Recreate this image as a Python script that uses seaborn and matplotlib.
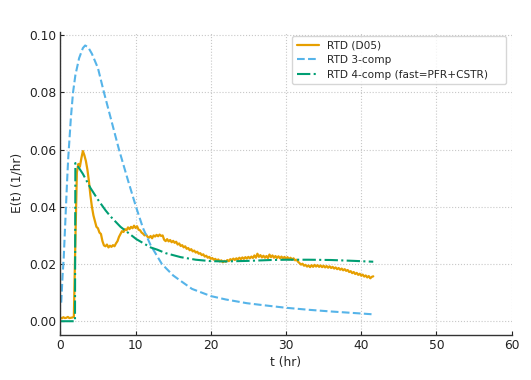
import numpy as np
import pandas as pd
import matplotlib
matplotlib.use('Agg')
import matplotlib.pyplot as plt
import seaborn as sns

# measured RTD (D05), sampled every 0.2 hr from t = 0
rtd_step = 0.2
rtd_vals = [
    0.0013, 0.0010, 0.0014, 0.0011, 0.0012, 0.0015, 0.0011, 0.0012, 0.0013, 0.0015,
    0.0280, 0.0520, 0.0550, 0.0540, 0.0570, 0.0595, 0.0580, 0.0560, 0.0530, 0.0490,
    0.0440, 0.0400, 0.0370, 0.0350, 0.0330, 0.0325, 0.0310, 0.0305, 0.0280, 0.0265,
    0.0262, 0.0268, 0.0258, 0.0264, 0.0260, 0.0266, 0.0262, 0.0272, 0.0280, 0.0295,
    0.0305, 0.0315, 0.0312, 0.0322, 0.0318, 0.0328, 0.0322, 0.0330, 0.0325, 0.0334,
    0.0326, 0.0332, 0.0320, 0.0318, 0.0310, 0.0306, 0.0300, 0.0303, 0.0295, 0.0292,
    0.0298, 0.0290, 0.0300, 0.0296, 0.0302, 0.0297, 0.0303, 0.0298, 0.0300, 0.0285,
    0.0280, 0.0287, 0.0279, 0.0284, 0.0276, 0.0281, 0.0274, 0.0278, 0.0268, 0.0272,
    0.0263, 0.0266, 0.0258, 0.0262, 0.0253, 0.0256, 0.0248, 0.0252, 0.0244, 0.0247,
    0.0240, 0.0243, 0.0236, 0.0238, 0.0231, 0.0234, 0.0226, 0.0229, 0.0222, 0.0225,
    0.0218, 0.0221, 0.0215, 0.0218, 0.0212, 0.0216, 0.0209, 0.0213, 0.0206, 0.0211,
    0.0208, 0.0214, 0.0210, 0.0217, 0.0213, 0.0219, 0.0214, 0.0220, 0.0216, 0.0222,
    0.0217, 0.0223, 0.0218, 0.0224, 0.0219, 0.0225, 0.0220, 0.0226, 0.0221, 0.0230,
    0.0222, 0.0236, 0.0225, 0.0231, 0.0223, 0.0229, 0.0222, 0.0228, 0.0221, 0.0233,
    0.0224, 0.0230, 0.0222, 0.0228, 0.0221, 0.0227, 0.0220, 0.0226, 0.0219, 0.0225,
    0.0218, 0.0224, 0.0216, 0.0222, 0.0215, 0.0220, 0.0213, 0.0215, 0.0208, 0.0203,
    0.0198, 0.0201, 0.0194, 0.0197, 0.0191, 0.0195, 0.0189, 0.0196, 0.0190, 0.0197,
    0.0191, 0.0196, 0.0190, 0.0195, 0.0189, 0.0194, 0.0188, 0.0193, 0.0187, 0.0192,
    0.0186, 0.0190, 0.0184, 0.0188, 0.0182, 0.0186, 0.0180, 0.0184, 0.0178, 0.0182,
    0.0176, 0.0179, 0.0172, 0.0175, 0.0168, 0.0172, 0.0165, 0.0169, 0.0162, 0.0166,
    0.0159, 0.0163, 0.0156, 0.0160, 0.0153, 0.0158, 0.0150, 0.0155, 0.0157,
]
rtd_t = np.arange(len(rtd_vals)) * rtd_step

# 3-compartment model
comp3_t = [0.12, 0.3, 0.45, 0.6, 0.75, 0.9, 1.05, 1.2, 1.4, 1.69, 2.0, 2.5, 3.0, 3.3,
           3.7, 4.2, 5.0, 5.8, 6.8, 7.8, 9.0, 10.06, 11.0, 12.0, 13.5, 15.0, 16.0,
           17.5, 20.0, 22.0, 24.8, 27.0, 30.0, 33.0, 36.0, 40.0, 41.6]
comp3_e = [0.0065, 0.0160, 0.0220, 0.0310, 0.0400, 0.0490, 0.0570, 0.0630, 0.0710,
           0.0800, 0.0860, 0.0920, 0.0955, 0.0964, 0.0958, 0.0935, 0.0885, 0.0800,
           0.0700, 0.0600, 0.0492, 0.0400, 0.0325, 0.0266, 0.0200, 0.0160, 0.0141,
           0.0113, 0.0088, 0.0076, 0.0063, 0.0056, 0.0047, 0.0040, 0.0034, 0.0027,
           0.0024]

# 4-compartment model (fast = PFR + CSTR)
comp4_t = [0.0, 1.95, 2.0, 2.5, 3.0, 4.0, 5.0, 6.0, 6.65, 8.0, 10.1, 12.0, 12.9, 14.0,
           16.0, 18.0, 20.0, 22.0, 25.0, 28.0, 30.0, 33.0, 36.0, 39.0, 41.6]
comp4_e = [0.0, 0.0, 0.0553, 0.0535, 0.0515, 0.0466, 0.0425, 0.0388, 0.0367, 0.0330,
           0.0287, 0.0258, 0.0250, 0.0238, 0.0224, 0.0215, 0.0210, 0.0209, 0.0211,
           0.0214, 0.0215, 0.0215, 0.0214, 0.0211, 0.0208]

sns.set_theme(style='whitegrid')
plt.rcParams['font.family'] = ['DejaVu Sans']

fig, ax = plt.subplots(figsize=(5.31, 3.8), dpi=100)
fig.subplots_adjust(left=0.1136, right=0.9636, bottom=0.1184, top=0.9166)

sns.lineplot(x=rtd_t, y=rtd_vals, ax=ax, color='#E69F00', lw=1.6,
             label='RTD (D05)', sort=False)
sns.lineplot(x=comp3_t, y=comp3_e, ax=ax, color='#56B4E9', lw=1.5,
             linestyle='--', label='RTD 3-comp', sort=False)
sns.lineplot(x=comp4_t, y=comp4_e, ax=ax, color='#009E73', lw=1.5,
             linestyle='-.', label='RTD 4-comp (fast=PFR+CSTR)', sort=False)

ax.set_xlim(0, 60)
ax.set_xlabel('t (hr)', fontsize=8.8, labelpad=3)
ax.set_ylabel('E(t) (1/hr)', fontsize=8.8, labelpad=4)
ax.tick_params(labelsize=8.8, direction='in', length=3, width=0.8,
               left=True, bottom=True, colors='#222222', pad=3)

ax.grid(True, linestyle=':', color='#c8c8c8', lw=0.8)
ax.set_facecolor('white')
for s in ['top', 'right']:
    ax.spines[s].set_visible(False)
for s in ['left', 'bottom']:
    ax.spines[s].set_color('#333333')
    ax.spines[s].set_linewidth(1.0)

# legend box stretched to the width seen in the reference
leg = ax.legend(loc='upper right', bbox_to_anchor=(0.514, 0.0, 0.4736, 0.9858),
                mode='expand', borderaxespad=0, fontsize=7.6, frameon=True,
                handlelength=2.1, handletextpad=0.75, borderpad=0.4,
                labelspacing=0.45)
leg.get_frame().set_edgecolor('#cccccc')

fig.savefig('out.png', dpi=100)
